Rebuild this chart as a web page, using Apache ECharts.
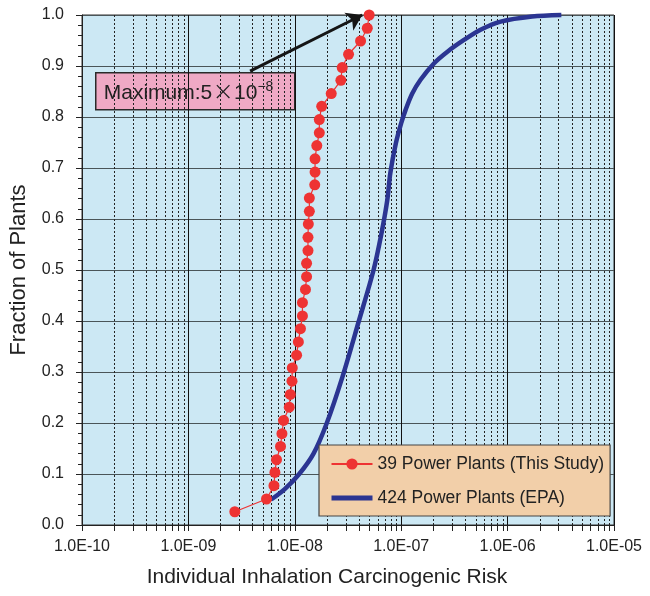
<!DOCTYPE html>
<html><head><meta charset="utf-8">
<script src="https://cdn.jsdelivr.net/npm/echarts@6/dist/echarts.min.js"></script>
<style>html,body{margin:0;padding:0;background:#fff}#c{width:650px;height:596px}</style>
</head><body><div id="c"></div>
<script>
// ---- data ----
const studyRisk = [2.73e-9, 5.42e-9, 6.37e-9, 6.50e-9, 6.73e-9, 7.34e-9, 7.57e-9, 7.84e-9, 8.87e-9, 9.07e-9, 9.41e-9, 9.47e-9,
  1.04e-8, 1.08e-8, 1.13e-8, 1.18e-8, 1.18e-8, 1.26e-8, 1.29e-8, 1.29e-8, 1.33e-8, 1.33e-8, 1.34e-8, 1.37e-8, 1.37e-8,
  1.54e-8, 1.55e-8, 1.55e-8, 1.61e-8, 1.70e-8, 1.70e-8, 1.79e-8, 2.20e-8, 2.71e-8, 2.79e-8, 3.20e-8, 4.15e-8, 4.80e-8, 5.0e-8];
const studyFraction = [0.026, 0.051, 0.077, 0.103, 0.128, 0.154, 0.179, 0.205, 0.231, 0.256, 0.282, 0.308, 0.333,
  0.359, 0.385, 0.410, 0.436, 0.462, 0.487, 0.513, 0.538, 0.564, 0.590, 0.615, 0.641, 0.667, 0.692, 0.718, 0.744,
  0.769, 0.795, 0.821, 0.846, 0.872, 0.897, 0.923, 0.949, 0.974, 1.000];
const epaRisk = [6.0e-9, 8.0e-9, 1.1e-8, 1.5e-8, 2.0e-8, 2.8e-8, 4.0e-8, 5.5e-8, 6.5e-8, 7.4e-8, 7.9e-8, 8.9e-8,
  1.0e-7, 1.1e-7, 1.27e-7, 1.52e-7, 2.03e-7, 2.72e-7, 3.89e-7, 5.57e-7, 8.6e-7, 1.7e-6, 3.2e-6];
const epaFraction = [0.05, 0.07, 0.10, 0.14, 0.20, 0.29, 0.40, 0.50, 0.57, 0.637, 0.69, 0.748,
  0.788, 0.814, 0.846, 0.873, 0.905, 0.928, 0.951, 0.971, 0.987, 0.997, 1.0];
const xTickLabels = ['1.0E-10', '1.0E-09', '1.0E-08', '1.0E-07', '1.0E-06', '1.0E-05'];
const seriesNames = ['39 Power Plants (This Study)', '424 Power Plants (EPA)'];
const annotationParts = ['Maximum:5', '×', '10', '−8'];
const arrowFrom = [3.8e-9, 0.89];
const arrowTo = [4.3e-8, 1.0];

// minor (2..9) positions of the log axis
const minorTicks = [];
for (let e = -10; e < -5; e++) for (let m = 2; m <= 9; m++) minorTicks.push([m * Math.pow(10, e), 0]);

const FONT = 'Liberation Sans, Arial, sans-serif';
const chart = echarts.init(document.getElementById('c'), null, {renderer: 'canvas'});
chart.setOption({
  animation: false,
  grid: {left: 82, right: 36, top: 15, bottom: 71, show: true, backgroundColor: '#cce8f4', borderColor: '#333', borderWidth: 1},
  legend: {
    data: [
      {name: seriesNames[0]},
      {name: seriesNames[1], itemStyle: {opacity: 0}, lineStyle: {width: 5, color: '#2b3592'}}
    ],
    orient: 'vertical', left: 319, top: 445,
    backgroundColor: '#f2cfa9', borderColor: '#444', borderWidth: 1.2, borderRadius: 0,
    padding: [10, 6, 9, 10], itemWidth: 41, itemHeight: 14, itemGap: 16,
    textStyle: {fontSize: 17.5, color: '#222', fontFamily: FONT}
  },
  xAxis: {
    type: 'log', logBase: 10, min: 1e-10, max: 1e-5,
    name: 'Individual Inhalation Carcinogenic Risk', nameLocation: 'middle', nameGap: 42,
    nameTextStyle: {fontSize: 21, color: '#222', fontFamily: FONT, padding: [0, 42, 0, 0]},
    axisLine: {lineStyle: {color: '#222'}},
    axisTick: {show: true, length: 6, inside: false, lineStyle: {color: '#222'}},
    axisLabel: {margin: 14, fontSize: 16, color: '#222', fontFamily: FONT, showMinLabel: true, showMaxLabel: true,
      formatter: v => xTickLabels[Math.round(Math.log10(v)) + 10]},
    splitLine: {show: true, lineStyle: {color: '#111', width: 1}}
  },
  yAxis: {
    type: 'value', min: 0, max: 1, interval: 0.1,
    name: 'Fraction of Plants', nameLocation: 'middle', nameGap: 52,
    nameTextStyle: {fontSize: 22, color: '#222', fontFamily: FONT},
    axisLine: {show: true, lineStyle: {color: '#222'}},
    axisTick: {show: true, length: 6, lineStyle: {color: '#222'}},
    minorTick: {show: true, splitNumber: 5, length: 4, lineStyle: {color: '#222'}},
    axisLabel: {margin: 18, fontSize: 16, color: '#222', fontFamily: FONT, formatter: v => v.toFixed(1)},
    splitLine: {show: true, lineStyle: {color: '#4a5558', width: 1.2}}
  },
  series: [
    {
      type: 'custom', silent: true, z: 1, clip: false,
      data: minorTicks,
      renderItem: (params, api) => {
        const v = api.value(0);
        const t = api.coord([v, 1]);
        const b = api.coord([v, 0]);
        const x = Math.round(t[0]) + 0.5;
        return {type: 'group', children: [
          {type: 'line', shape: {x1: x, y1: t[1], x2: x, y2: b[1]}, style: {stroke: '#222', lineWidth: 1, lineDash: [2, 2]}},
          {type: 'line', shape: {x1: x, y1: b[1], x2: x, y2: b[1] + 6}, style: {stroke: '#222', lineWidth: 1}}
        ]};
      }
    },
    {
      name: seriesNames[1], type: 'line', smooth: 0.3, showSymbol: false, symbol: 'none', clip: false, z: 3,
      data: epaRisk.map((x, i) => [x, epaFraction[i]]),
      lineStyle: {color: '#2b3592', width: 4.5}, itemStyle: {color: '#2b3592'}
    },
    {
      name: seriesNames[0], type: 'line', symbol: 'circle', symbolSize: 11, clip: false, z: 4,
      data: studyRisk.map((x, i) => [x, studyFraction[i]]),
      lineStyle: {color: '#ee3333', width: 1.2}, itemStyle: {color: '#ee3333'},
      markLine: {
        silent: true, symbol: ['none', 'arrow'], symbolSize: 15, animation: false,
        lineStyle: {color: '#151515', width: 3, type: 'solid'}, label: {show: false},
        data: [[{coord: arrowFrom}, {coord: arrowTo}]]
      }
    }
  ],
  graphic: [{
    type: 'group', left: 95, top: 72, z: 100,
    children: [
      {type: 'rect', shape: {x: 0, y: 0, width: 199, height: 37}, style: {fill: '#efa9c5', stroke: '#2a2a2a', lineWidth: 1.5}},
      {type: 'text', x: 8, y: 20, style: {
        text: '{a|' + annotationParts[0] + '}{x|' + annotationParts[1] + '}{a|' + annotationParts[2] + '}{s|' + annotationParts[3] + '}',
        verticalAlign: 'middle',
        rich: {
          a: {fontSize: 21, fill: '#222', fontFamily: FONT},
          x: {fontSize: 26, fill: '#222', fontFamily: 'DejaVu Sans, sans-serif', fontWeight: 'lighter'},
          s: {fontSize: 14, fill: '#222', fontFamily: FONT, verticalAlign: 'top'}
        }
      }}
    ]
  }]
});
</script></body></html>
